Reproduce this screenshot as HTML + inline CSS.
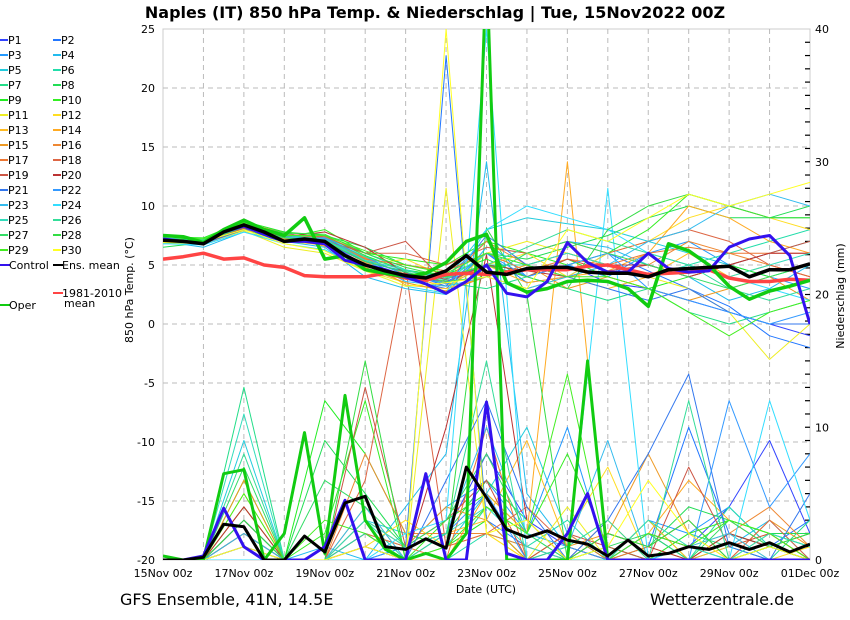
<!DOCTYPE html>
<html><head><meta charset="utf-8"><style>
body{margin:0;background:#fff;width:850px;height:620px;overflow:hidden;font-family:"Liberation Sans","DejaVu Sans",sans-serif}
svg{display:block}
</style></head><body>
<svg id="chart" width="850" height="620" xmlns="http://www.w3.org/2000/svg" font-family="DejaVu Sans, Liberation Sans, sans-serif">
<defs><clipPath id="pc"><rect x="163" y="29" width="647" height="531"/></clipPath></defs>
<text x="435" y="18" text-anchor="middle" font-size="16" font-weight="bold">Naples  (IT)  850 hPa Temp. &amp; Niederschlag | Tue, 15Nov2022 00Z</text>
<rect x="163" y="29" width="647" height="531" fill="none" stroke="#ccc"/>
<g id="grid"></g>
<g id="axes"></g>
<g id="series" clip-path="url(#pc)"></g>
<g id="legend"></g>
<text x="133" y="290" transform="rotate(-90 133 290)" text-anchor="middle" font-size="11">850 hPa Temp. (°C)</text>
<text x="844" y="296" transform="rotate(-90 844 296)" text-anchor="middle" font-size="11">Niederschlag (mm)</text>
<text x="486" y="593" text-anchor="middle" font-size="11">Date (UTC)</text>
<text x="120" y="605" font-size="16">GFS Ensemble, 41N, 14.5E</text>
<text x="650" y="605" font-size="16">Wetterzentrale.de</text>
</svg>
<script>
const dateLabels=["15Nov 00z","17Nov 00z","19Nov 00z","21Nov 00z","23Nov 00z","25Nov 00z","27Nov 00z","29Nov 00z","01Dec 00z"];
const tempTicks=[25,20,15,10,5,0,-5,-10,-15,-20];
const precTicks=[0,10,20,30,40];
const ctlTemp=[7.2,7.0,6.8,7.8,8.3,7.6,7.0,7.0,6.8,5.4,5.0,4.6,4.0,3.4,2.6,3.6,5.0,2.6,2.3,3.6,6.9,5.2,4.4,4.4,6.0,4.7,4.4,4.5,6.5,7.2,7.5,5.8,0.0];
const meanTemp=[7.1,7.0,6.8,7.8,8.4,7.8,7.0,7.2,7.0,5.8,5.0,4.5,4.1,3.9,4.5,5.8,4.4,4.2,4.7,4.8,4.8,4.4,4.3,4.3,4.0,4.6,4.7,4.8,4.9,4.0,4.6,4.6,5.1];
const operTemp=[7.5,7.4,6.9,8.0,8.8,8.0,7.5,9.0,5.5,5.8,4.6,4.3,4.0,4.3,5.2,7.0,7.6,3.5,2.7,3.0,3.6,3.7,3.6,3.0,1.5,6.8,6.2,5.0,3.2,2.1,2.8,3.2,3.7];
const climTemp=[5.5,5.7,6.0,5.5,5.6,5.0,4.8,4.1,4.0,4.0,4.0,4.3,3.9,3.7,4.2,4.3,4.2,4.4,4.6,4.6,4.6,4.9,5.0,4.6,4.2,4.3,4.4,4.6,3.9,3.6,3.6,3.8,3.7];
const ctlPrec=[0,0,0.3,3.9,1,0,0,0,1,4.5,0,0,0,6.5,0,0,11.9,0.5,0,0,2,5,0,0,0,0,0,0,0,0,0,0,0];
const meanPrec=[0,0,0.2,2.7,2.5,0,0,1.8,0.6,4.3,4.8,1.0,0.8,1.6,0.9,7.0,4.7,2.3,1.7,2.2,1.5,1.2,0.3,1.5,0.3,0.5,1.0,0.8,1.3,0.8,1.3,0.6,1.2];
const operPrec=[0.3,0,0,6.5,6.8,0,2,9.6,0.5,12.4,3,0.8,0,0.5,0,2,45,0,0,0,0,15,0,0,0,0,0,0,0,0,0,0,0];
const memberColors=["#3344ff","#2277ff","#2299ff","#22bbee","#22ccdd","#22ddaa","#22dd88","#22dd55","#22ee22","#33ee22","#eeee22","#ffdd22","#ffbb22","#ffaa22","#ee9922","#ee8833","#ee7733","#dd6644","#cc5544","#bb3333","#3377ee","#3399ff","#33bbee","#33ddff","#33ddbb","#33dd99","#33dd66","#33dd44","#44ee22","#ffff22"];
const memTemp=[
[7,6.8,8,7.4,7,5,4,3.6,5,4,5,3.5,3,2,1,0,-1],
[7,7,8.5,7.8,6.8,5.5,3.8,3,6,3.5,4,6,4.5,3,1.5,-1,-2],
[7.3,7.1,8.3,7.2,7.5,5.2,4.5,4,7,4,5,4,6,7,5,4,3],
[7,6.5,7.8,7,6.5,4,3,2.5,6.5,6,7,6.5,5,4,2,3,5],
[6.8,6.9,8.6,7.5,7.2,5.5,4.2,3.8,8,9,8.5,8,7,6,5,6,7],
[7,7,8,7.6,7.3,6,4.6,4,5,5,6,5,4,5,6,7,8],
[7.2,7.2,8.5,7.4,6.8,5,4,3.5,3,4,3,2,3,1,0,1,2],
[6.5,6.9,8,7,7.5,6.5,5,4.5,6,5.5,6.5,7.5,9,10,9,9,10],
[7.4,7.3,8.7,7.8,7.5,5.8,4.5,4.2,5.5,4,5.5,4,3,4,5,4,5],
[7.1,7,8.2,7.3,8,6,5.5,5,7,6,5,6,8,11,10,9,9],
[6.9,6.8,7.9,6.5,6,4.5,3.5,2.8,6,7,6,5,4,3,1,-3,0],
[7,7.2,8.2,7,6.7,5,5.5,4,5,6,4,6,7,9,10,9,8],
[7.2,7,8.4,7.2,7,5.5,3.3,3,4,3,4,3,4,6,4,5,4],
[7.5,7.1,8.6,7.7,7,5.2,4,3.2,5,3.5,4,4.5,6,10,9,7,6],
[7,6.9,8,7.3,6.6,4.8,3.5,2.8,4,5,3,4,3,2,3,4,2],
[7.3,7,8.3,7.5,7.3,5.6,4.2,3.6,7,5,6,5,5,7,6,5,4],
[7,7,8.2,7.5,7.2,5.5,5,4.5,6,4.5,5.5,5,6,6.5,6,6,6],
[7.1,7.1,8.4,7.6,7.4,6,6,5,6.5,6,7,6,7,8,7,5,4],
[7,7,8.1,7.4,7.1,6,7,3.5,5,4,5.5,4.5,5,4,5,6,7],
[7.2,7.2,8.3,7.4,7.8,6.5,4.3,3.8,5,4.5,4,5,5,4,5,6,6],
[7,6.8,8,7.6,6.9,5.3,4.4,3.2,7.5,5,4,3,2,3,1,0,0],
[7.1,7,8.2,7.3,7.3,5.7,4.1,3.4,6,4,5,6,3,2,1,0,1],
[7.2,7.1,8.3,7.5,7.2,5.4,3.6,3.2,4,3,4,5,7,8,10,11,10],
[6.8,6.7,7.8,6.8,6.3,4.5,3.2,2.6,8,10,9,8,6,5,4,3,2],
[7.3,7.1,8.7,7.4,7.1,5.4,4.6,3.7,6,5,6,5,4,5,4,5,6],
[7,7,8.4,7.6,7.1,5.7,4.5,3.9,5,6.5,8,7,6,5,3,2,3],
[7.1,7,8.2,7.3,7,5.3,4.4,3.6,4,6,7,6,5,4,3,4,5],
[7.2,7.2,8.5,7.7,7.6,6,4.8,4,5,4,3,8,10,11,10,9,9],
[7.5,7.2,8.6,7.5,7.5,6.2,5,4.3,6,5,4,4,3,1,-1,1,2],
[6.9,7,8,6.8,6.2,4.5,3.2,3.5,4,3,8,7,9,11,10,11,12]];
const memPrec=[
[0,0,2,0,0,1,0,2,8,3,1,0,2,1,4,9,2],
[0,0,1,0,0,0,1,38,3,1,0,0,1,10,2,1,3],
[0,0,3,0,0,2,1,4,6,2,10,0,3,2,4,1,0],
[0,0,0,0,1,0,4,8,30,5,1,0,2,0,1,3,0],
[0,0,9,0,0,3,2,1,5,10,2,0,1,3,0,2,1],
[0,0,4,0,0,3,0,0,2,1,3,0,2,0,4,1,0],
[0,0,13,0,0,1,0,0,4,2,0,1,0,2,1,0,3],
[0,0,2,0,9,5,1,2,6,3,0,2,1,4,3,2,2],
[0,0,6,0,12,8,2,1,3,0,2,0,3,0,2,1,0],
[0,0,3,0,2,12,0,3,5,2,8,1,0,2,3,2,1],
[0,0,1,0,0,0,0,28,2,0,4,0,1,0,0,2,0],
[0,0,5,0,0,1,3,1,2,0,2,7,0,1,2,0,1],
[0,0,4,0,0,2,0,2,3,9,1,0,3,0,1,2,0],
[0,0,2,0,0,4,0,0,5,2,30,0,2,6,3,1,0],
[0,0,6,0,0,3,1,4,3,0,1,2,8,2,0,3,1],
[0,0,3,0,0,8,2,2,2,1,0,3,0,0,2,4,1],
[0,0,1,0,0,2,1,0,10,0,2,0,1,3,0,1,2],
[0,0,3,0,0,6,22,1,2,4,1,0,2,1,0,3,0],
[0,0,2,0,0,13,1,3,6,0,2,1,0,7,1,2,0],
[0,0,4,0,0,1,0,10,23,3,0,2,1,0,2,1,0],
[0,0,1,0,0,2,0,6,12,4,0,3,8,14,1,0,5],
[0,0,3,0,0,0,1,2,5,0,1,0,2,0,12,4,8],
[0,0,2,0,0,4,0,2,10,2,1,9,0,1,2,0,0],
[0,0,0,0,0,0,2,3,40,0,0,28,0,1,0,12,3],
[0,0,11,0,0,3,1,2,4,1,0,0,3,1,0,2,1],
[0,0,8,0,0,2,0,2,15,0,1,3,0,12,0,1,2],
[0,0,7,0,6,4,1,3,8,2,0,1,2,0,3,1,0],
[0,0,3,0,0,15,0,1,25,20,0,2,1,3,0,1,2],
[0,0,5,0,3,2,0,1,4,2,14,0,2,1,3,2,0],
[0,0,1,0,0,1,0,40,2,3,0,1,6,2,0,1,0]];

const NS="http://www.w3.org/2000/svg";
const X0=163,X1=810,Y0=29,Y1=560,DAYS=16;
const xDay=d=>X0+(X1-X0)*d/DAYS;
const yT=t=>Y1-(t+20)*(Y1-Y0)/45;
const yP=p=>Y1-p*(Y1-Y0)/40;
function mk(tag,attrs,parent){const e=document.createElementNS(NS,tag);for(const k in attrs)e.setAttribute(k,attrs[k]);parent.appendChild(e);return e;}
const grid=document.getElementById('grid'),axes=document.getElementById('axes'),ser=document.getElementById('series'),leg=document.getElementById('legend');
tempTicks.forEach(t=>{
  if(t>-20&&t<25){const l=mk('line',{x1:X0,x2:X1,y1:yT(t),y2:yT(t),stroke:'#bbb','stroke-dasharray':'5,4'},grid);
  
  }
  const tx=mk('text',{x:155,y:yT(t)+4,'text-anchor':'end','font-size':11},axes);tx.textContent=t;
  
  
});
for(let d=1;d<DAYS;d++){const l=mk('line',{x1:xDay(d),x2:xDay(d),y1:Y0,y2:Y1,stroke:'#bbb','stroke-dasharray':'5,4'},grid);
  
  }
dateLabels.forEach((s,i)=>{const tx=mk('text',{x:xDay(i*2),y:577,'text-anchor':'middle','font-size':11},axes);tx.textContent=s;
  
  });
for(let p=1;p<40;p++){mk('line',{x1:X1-5,x2:X1,y1:yP(p),y2:yP(p),stroke:'#000','stroke-width':1.2},axes);}
precTicks.forEach(p=>{const tx=mk('text',{x:815,y:yP(p)+4,'font-size':11},axes);tx.textContent=p;
  
  });

function line(vals,step,yf,color,w,name){
  const pts=vals.map((v,i)=>xDay(i*step).toFixed(1)+','+yf(v).toFixed(1)).join(' ');
  const pl=mk('polyline',{points:pts,fill:'none',stroke:color,'stroke-width':w,'stroke-linejoin':'round'},ser);
  
  
}
memPrec.forEach((a,i)=>line(a,1,yP,memberColors[i],1,'precip-p'+(i+1)));
memTemp.forEach((a,i)=>line(a,1,yT,memberColors[i],1,'temp-p'+(i+1)));
line(climTemp,0.5,yT,'#f44',3.5,'climate-mean-line');
line(operPrec,0.5,yP,'#11cc11',3,'oper-precip');
line(ctlPrec,0.5,yP,'#3311ee',3,'control-precip');
line(meanPrec,0.5,yP,'#000',3,'ens-mean-precip');
line(operTemp,0.5,yT,'#11cc11',3.5,'oper-temp');
line(ctlTemp,0.5,yT,'#3311ee',3,'control-temp');
line(meanTemp,0.5,yT,'#000',3.5,'ens-mean-temp');

for(let i=0;i<30;i++){
  const col=i%2,row=Math.floor(i/2);
  const x=col?53:0,y=40+row*15;
  mk('line',{x1:x,x2:x+8,y1:y,y2:y,stroke:memberColors[i],'stroke-width':2},leg);
  const t=mk('text',{x:x+8,y:y+4,'font-size':11},leg);t.textContent='P'+(i+1);
  
  
}
const extra=[[0,265,'#3311ee','Control'],[53,265,'#000','Ens. mean'],[53,293,'#f44','1981-2010'],[0,305,'#11cc11','Oper']];
extra.forEach(e=>{mk('line',{x1:e[0],x2:e[0]+10,y1:e[1],y2:e[1],stroke:e[2],'stroke-width':2},leg);
  const t=mk('text',{x:e[0]+9,y:e[1]+4,'font-size':11},leg);t.textContent=e[3];
  
  });
const m=mk('text',{x:64,y:307,'font-size':11},leg);m.textContent='mean';


</script>
</body></html>
